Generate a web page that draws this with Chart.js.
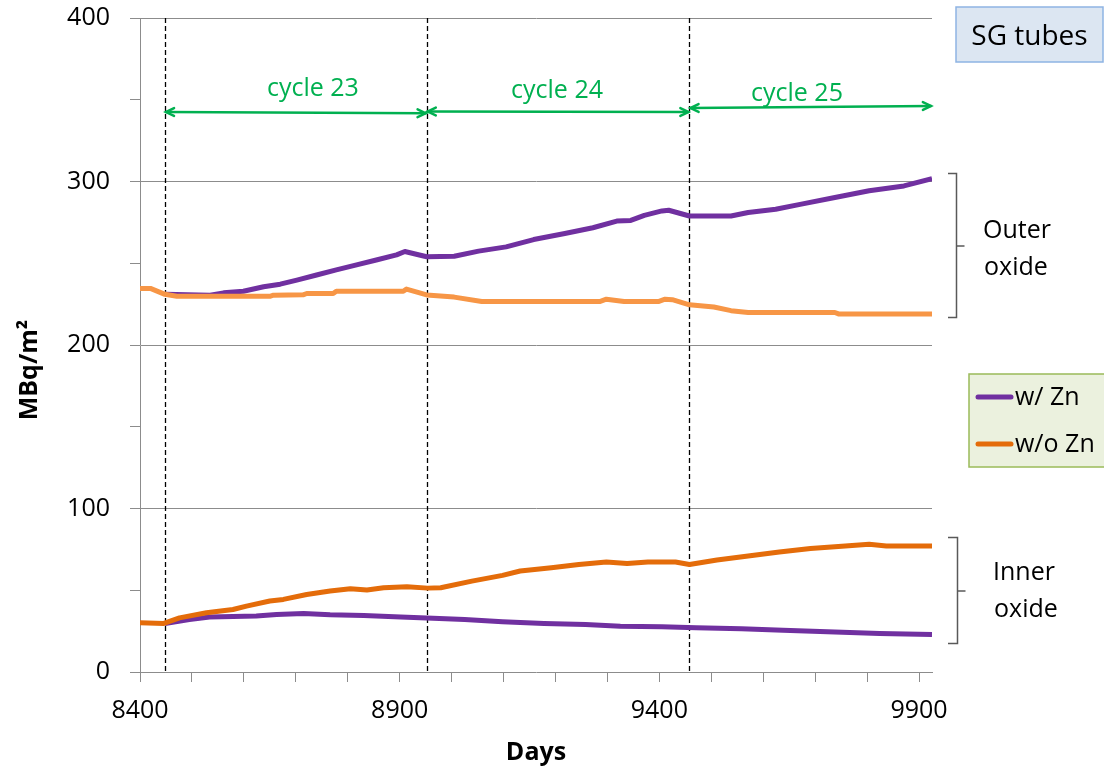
<!DOCTYPE html>
<html><head><meta charset="utf-8">
<script src="https://cdn.jsdelivr.net/npm/chart.js@4/dist/chart.umd.min.js"></script>
<style>html,body{margin:0;padding:0;background:#fff}canvas{display:block}</style>
</head><body>
<canvas id="c" width="1104" height="766"></canvas>
<script>
// ---------- data ----------
const xTickDays = [8400,8500,8600,8700,8800,8900,9000,9100,9200,9300,9400,9500,9600,9700,9800,9900];
const xLabelDays = [8400,8900,9400,9900];
const yTickValues = [0,50,100,150,200,250,300,350,400];
const yLabelValues = [0,100,200,300,400];
const cycleStartDays = [8448, 8952, 9458];
const cycleEndDay = 9925;
const cycleNames = ['cycle 23','cycle 24','cycle 25'];
const seriesNames = ['w/ Zn','w/o Zn'];
const groupNames = [['Outer','oxide'],['Inner','oxide']];
const boxTitle = 'SG tubes';
const xTitle = 'Days';
const yTitle = 'MBq/m\u00B2';

const outerZnDays   = [8448,8535,8561,8599,8638,8670,8702,8740,8778,8817,8855,8894,8910,8952,9005,9052,9105,9158,9218,9272,9318,9345,9371,9405,9418,9458,9538,9571,9624,9671,9738,9804,9871,9925];
const outerZnValues = [231,230.5,231.9,232.9,235.6,237.2,239.7,242.8,245.9,249,252,255.1,257.2,254,254.3,257.4,260,264.5,268.2,271.7,275.8,276.2,279.3,282,282.4,278.9,278.9,281,283,286,290.2,294.3,297.3,301.8];

const outerNoZnDays   = [8400,8420,8448,8471,8650,8657,8714,8721,8772,8778,8907,8913,8952,9005,9058,9285,9298,9332,9398,9411,9425,9458,9505,9538,9571,9738,9745,9925];
const outerNoZnValues = [234.6,234.6,231,229.8,229.8,230.5,230.7,231.5,231.5,232.9,232.9,234.2,230.6,229.3,226.6,226.6,228,226.6,226.6,228,227.7,224.6,223.2,221,219.9,219.9,219,219];

const innerZnDays   = [8448,8495,8534,8624,8663,8715,8766,8831,8902,8952,9025,9098,9178,9258,9325,9405,9471,9558,9638,9738,9824,9925];
const innerZnValues = [29.7,32.1,33.7,34.2,35.2,35.8,35,34.6,33.7,33.1,32.1,30.7,29.7,29.1,28,27.6,27,26.4,25.6,24.5,23.5,22.9];

const innerNoZnDays   = [8400,8446,8476,8528,8579,8605,8650,8676,8721,8766,8805,8837,8869,8914,8954,8979,9039,9098,9132,9192,9245,9298,9338,9378,9431,9458,9511,9571,9631,9691,9758,9804,9837,9925];
const innerNoZnValues = [30.1,29.7,33.1,36.2,38.2,40.3,43.4,44.4,47.4,49.5,50.9,50.1,51.5,52.1,51.3,51.5,55.6,59.1,61.8,63.8,65.8,67.3,66.3,67.3,67.3,65.8,68.5,71,73.4,75.5,77.1,78.1,77.1,77.1];

// ---------- styles / layout ----------
const PURPLE = '#7030A0', ORANGE_LIGHT = '#F79646', ORANGE_DARK = '#E46C0A', GREEN = '#00B050', GRID = '#8c8c8c';
const FONT = "'Open Sans', 'DejaVu Sans', sans-serif";
const arrowAnno = [
  {x0: 8448, y0: 342.5, x1: 8952, y1: 341.7, lx: 8733, ly: 352.3},
  {x0: 8952, y0: 342.8, x1: 9458, y1: 342.5, lx: 9203, ly: 351.1},
  {x0: 9458, y0: 344.9, x1: 9925, y1: 346.2, lx: 9665, ly: 349.2}
];

function pts(days, vals){ return days.map((d,i)=>({x:d, y:vals[i]})); }
function ds(label, days, vals, color){
  return {label, data: pts(days, vals), borderColor: color, backgroundColor: color,
    borderWidth: 5, pointRadius: 0, tension: 0, borderJoinStyle: 'round', borderCapStyle: 'butt'};
}

const annoPlugin = {
  id: 'anno',
  beforeDatasetsDraw(chart){
    const {ctx, chartArea: a, scales: {x, y}} = chart;
    ctx.save();
    ctx.strokeStyle = '#000'; ctx.lineWidth = 1.3; ctx.setLineDash([5,3]);
    cycleStartDays.forEach(d => {
      const px = Math.round(x.getPixelForValue(d)) + 0.5;
      ctx.beginPath(); ctx.moveTo(px, a.top); ctx.lineTo(px, a.bottom); ctx.stroke();
    });
    ctx.setLineDash([]);
    ctx.strokeStyle = GREEN; ctx.fillStyle = GREEN; ctx.lineWidth = 2.5; ctx.lineCap = 'round';
    const head = (tx, ty, fx, fy) => {
      const ang = Math.atan2(ty - fy, tx - fx), L = 9, w = 0.45;
      ctx.beginPath();
      ctx.moveTo(tx - L*Math.cos(ang - w), ty - L*Math.sin(ang - w));
      ctx.lineTo(tx, ty);
      ctx.lineTo(tx - L*Math.cos(ang + w), ty - L*Math.sin(ang + w));
      ctx.stroke();
    };
    ctx.font = `25px ${FONT}`; ctx.textAlign = 'center'; ctx.textBaseline = 'alphabetic';
    arrowAnno.forEach((ar, i) => {
      const X0 = x.getPixelForValue(ar.x0), Y0 = y.getPixelForValue(ar.y0);
      const X1 = x.getPixelForValue(ar.x1), Y1 = y.getPixelForValue(ar.y1);
      ctx.beginPath(); ctx.moveTo(X0 + 1, Y0); ctx.lineTo(X1 - 1, Y1); ctx.stroke();
      head(X0 + 1, Y0, X1, Y1); head(X1 - 1, Y1, X0, Y0);
      ctx.fillText(cycleNames[i], x.getPixelForValue(ar.lx), y.getPixelForValue(ar.ly));
    });
    ctx.restore();
  },
  afterDraw(chart){
    const {ctx, chartArea: a} = chart;
    ctx.save();
    ctx.fillStyle = '#000';
    ctx.font = `bold 25px ${FONT}`; ctx.textAlign = 'center'; ctx.textBaseline = 'alphabetic';
    ctx.fillText(xTitle, (a.left + a.right)/2, 760);
    ctx.save(); ctx.translate(30, 370); ctx.rotate(-Math.PI/2);
    ctx.textBaseline = 'middle'; ctx.fillText(yTitle, 0, 0); ctx.restore();
    ctx.fillStyle = '#DCE6F2'; ctx.strokeStyle = '#8EB4E3'; ctx.lineWidth = 1.5;
    ctx.fillRect(956, 7, 147, 55); ctx.strokeRect(956, 7, 147, 55);
    ctx.fillStyle = '#000'; ctx.font = `28px ${FONT}`; ctx.textAlign = 'center';
    ctx.fillText(boxTitle, 1029.5, 45);
    ctx.fillStyle = '#EBF1DE'; ctx.strokeStyle = '#9BBB59'; ctx.lineWidth = 1.5;
    ctx.fillRect(969, 374, 145, 93); ctx.strokeRect(969, 374, 145, 93);
    const legColors = [PURPLE, ORANGE_DARK], legY = [397, 444];
    ctx.font = `25px ${FONT}`; ctx.textAlign = 'left'; ctx.textBaseline = 'middle';
    seriesNames.forEach((n, i) => {
      ctx.strokeStyle = legColors[i]; ctx.lineWidth = 5; ctx.lineCap = 'round';
      ctx.beginPath(); ctx.moveTo(978, legY[i]); ctx.lineTo(1011, legY[i]); ctx.stroke();
      ctx.fillStyle = '#000'; ctx.fillText(n, 1015, legY[i] + 1);
    });
    ctx.strokeStyle = '#595959'; ctx.lineWidth = 1.5; ctx.lineCap = 'butt';
    const bracket = (bx, top, bot, mid) => {
      ctx.beginPath();
      ctx.moveTo(948, top); ctx.lineTo(bx, top); ctx.lineTo(bx, bot); ctx.lineTo(948, bot);
      ctx.moveTo(bx, mid); ctx.lineTo(bx + 8, mid);
      ctx.stroke();
    };
    bracket(956.5, 173.5, 317.5, 246);
    bracket(957.5, 537.5, 643.5, 591);
    ctx.fillStyle = '#000'; ctx.font = `25px ${FONT}`; ctx.textAlign = 'left'; ctx.textBaseline = 'alphabetic';
    ctx.fillText(groupNames[0][0], 983, 238); ctx.fillText(groupNames[0][1], 984, 275);
    ctx.fillText(groupNames[1][0], 993, 580); ctx.fillText(groupNames[1][1], 994, 617);
    ctx.restore();
  }
};

new Chart(document.getElementById('c'), {
  type: 'line',
  data: { datasets: [
    ds(seriesNames[1] + ' outer', outerNoZnDays, outerNoZnValues, ORANGE_LIGHT),
    ds(seriesNames[0] + ' outer', outerZnDays, outerZnValues, PURPLE),
    ds(seriesNames[1] + ' inner', innerNoZnDays, innerNoZnValues, ORANGE_DARK),
    ds(seriesNames[0] + ' inner', innerZnDays, innerZnValues, PURPLE)
  ]},
  options: {
    responsive: false, animation: false, devicePixelRatio: 1,
    layout: { padding: { left: 0, top: 18, right: 172, bottom: 0 } },
    plugins: { legend: { display: false }, tooltip: { enabled: false } },
    scales: {
      x: {
        type: 'linear', min: 8400, max: 9925,
        afterBuildTicks: s => { s.ticks = xTickDays.map(v => ({value: v})); },
        afterFit: s => { s.height = 94; s.paddingLeft = 0; s.paddingRight = 0; },
        grid: { drawOnChartArea: false, drawTicks: true, tickLength: 10, tickColor: GRID, color: GRID },
        border: { color: GRID, width: 1 },
        ticks: { autoSkip: false, maxRotation: 0, padding: 14, color: '#000',
          font: { family: FONT, size: 25 },
          callback: v => xLabelDays.includes(v) ? String(v) : '' }
      },
      y: {
        min: 0, max: 400,
        afterBuildTicks: s => { s.ticks = yTickValues.map(v => ({value: v})); },
        afterFit: s => { s.width = 140; s.paddingTop = 0; s.paddingBottom = 0; },
        grid: { drawTicks: true, tickLength: 10, tickColor: GRID,
          color: c => (c.tick && yLabelValues.includes(c.tick.value) && c.tick.value > 0) ? GRID : 'rgba(0,0,0,0)' },
        border: { color: GRID, width: 1 },
        ticks: { autoSkip: false, padding: 20, color: '#000',
          font: { family: FONT, size: 25 },
          callback: v => yLabelValues.includes(v) ? String(v) : '' }
      }
    }
  },
  plugins: [annoPlugin]
});
</script>
</body></html>
